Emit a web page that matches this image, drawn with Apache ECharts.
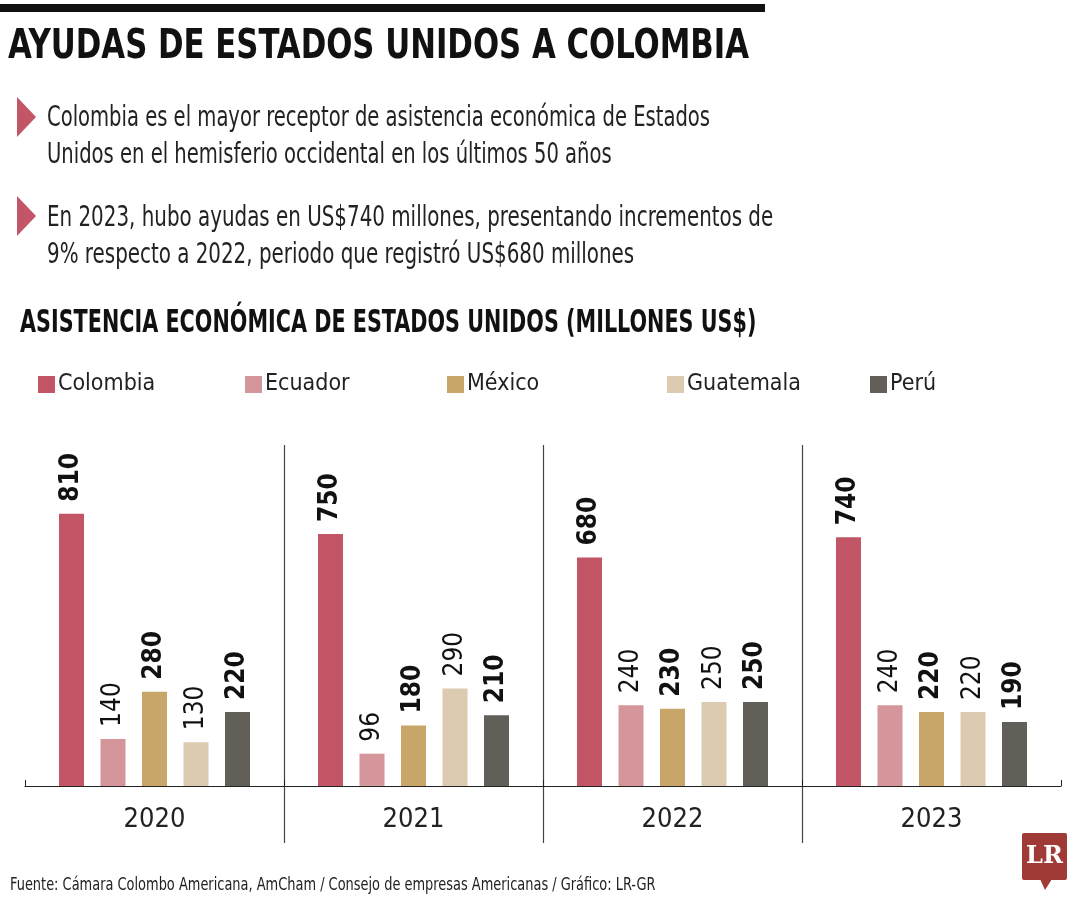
<!DOCTYPE html>
<html>
<head>
<meta charset="utf-8">
<script src="https://cdn.jsdelivr.net/npm/echarts@6/dist/echarts.min.js"></script>
<style>
html,body{margin:0;padding:0;background:#fff;}
#chart{width:1080px;height:900px;}
</style>
</head>
<body>
<div id="chart"></div>
<script>
var years = ['2020', '2021', '2022', '2023'];
var countries = ['Colombia', 'Ecuador', 'México', 'Guatemala', 'Perú'];
var colombia = [810, 750, 680, 740];
var ecuador = [140, 96, 240, 240];
var mexico = [280, 180, 230, 220];
var guatemala = [130, 290, 250, 220];
var peru = [220, 210, 250, 190];
var colors = ['#c25566', '#d4959b', '#c8a66a', '#dccbb0', '#625e58'];
var boldLabel = [true, false, true, false, true];

var FONT = '"DejaVu Sans Condensed", "Liberation Sans Narrow", sans-serif';
var seriesData = [colombia, ecuador, mexico, guatemala, peru];

var chart = echarts.init(document.getElementById('chart'));

var series = countries.map(function (name, i) {
  return {
    name: name,
    type: 'bar',
    data: seriesData[i],
    barWidth: 25,
    barGap: '66%',
    itemStyle: { color: colors[i] },
    label: {
      show: true,
      position: 'top',
      rotate: 90,
      align: 'left',
      verticalAlign: 'middle',
      distance: 12,
      color: '#111',
      fontFamily: FONT,
      fontSize: 26,
      fontWeight: boldLabel[i] ? 'bold' : 'normal'
    }
  };
});

var legendLefts = [33, 240, 442, 662, 865];
var legends = countries.map(function (name, i) {
  return {
    data: [name],
    left: legendLefts[i],
    top: 368,
    icon: 'rect',
    itemWidth: 17,
    itemHeight: 17,
    itemGap: 4,
    selectedMode: false,
    textStyle: { fontFamily: FONT, fontSize: 23, color: '#222', padding: [0, 0, 0, -2] }
  };
});

function tri(y) {
  return {
    type: 'polygon',
    shape: { points: [[17, y], [36, y + 20], [17, y + 40]] },
    style: { fill: '#c25566' }
  };
}

function txt(x, y, text, font, sx, extra) {
  var st = { text: text, font: font, fill: '#222', x: 0, y: 0 };
  if (extra) { for (var k in extra) st[k] = extra[k]; }
  return { type: 'text', x: x, y: y, scaleX: sx, style: st };
}

var option = {
  backgroundColor: '#fff',
  animation: false,
  legend: legends,
  grid: { left: 25, right: 19, top: 445, bottom: 57, containLabel: false },
  xAxis: {
    type: 'category',
    data: years,
    boundaryGap: true,
    offset: -57,
    axisLine: { show: true, onZero: false, lineStyle: { color: '#222', width: 1.2 } },
    axisTick: { show: true, inside: true, length: 6, lineStyle: { color: '#222' } },
    axisLabel: { fontFamily: FONT, fontSize: 27, color: '#222', margin: 20 },
    splitLine: { show: true, showMinLine: false, showMaxLine: false, lineStyle: { color: '#444', width: 1.2 } }
  },
  yAxis: {
    type: 'value',
    min: -170,
    max: 1015,
    show: false,
    splitLine: { show: false }
  },
  series: series,
  graphic: [
    { type: 'rect', shape: { x: 0, y: 4, width: 765, height: 8 }, style: { fill: '#111' } },
    txt(8, 28, 'AYUDAS DE ESTADOS UNIDOS A COLOMBIA', '600 40px ' + FONT, 0.855, { fill: '#111' }),
    tri(97),
    txt(47, 100, 'Colombia es el mayor receptor de asistencia económica de Estados\nUnidos en el hemisferio occidental en los últimos 50 años', '29px ' + FONT, 0.75, { lineHeight: 37 }),
    tri(196),
    txt(47, 200, 'En 2023, hubo ayudas en US$740 millones, presentando incrementos de\n9% respecto a 2022, periodo que registró US$680 millones', '29px ' + FONT, 0.762, { lineHeight: 37 }),
    txt(20, 308, 'ASISTENCIA ECONÓMICA DE ESTADOS UNIDOS (MILLONES US$)', 'bold 32px ' + FONT, 0.72, { fill: '#111' }),
    txt(10, 876, 'Fuente: Cámara Colombo Americana, AmCham / Consejo de empresas Americanas / Gráfico: LR-GR', '18px ' + FONT, 0.8),
    { type: 'rect', shape: { x: 1022, y: 833, width: 45, height: 47, r: 2 }, style: { fill: '#a03a37' } },
    { type: 'polygon', shape: { points: [[1040, 879], [1052, 879], [1045, 890]] }, style: { fill: '#a03a37' } },
    { type: 'text', x: 1044.5, y: 857, style: { text: 'LR', font: 'bold 24px "DejaVu Serif", "Liberation Serif", serif', fill: '#fff', align: 'center', verticalAlign: 'middle' } }
  ]
};
chart.setOption(option);
</script>
</body>
</html>
